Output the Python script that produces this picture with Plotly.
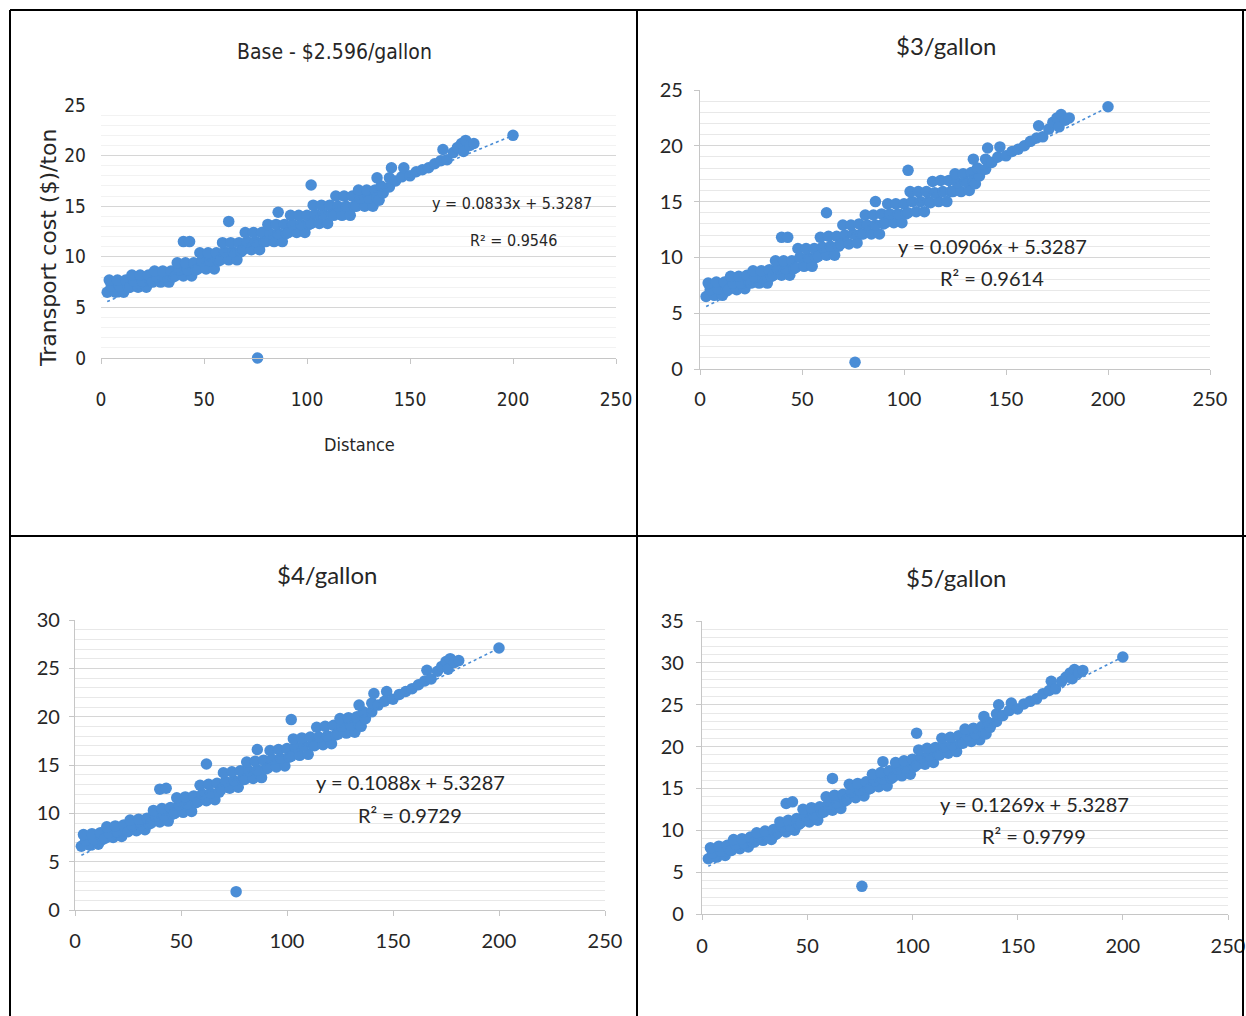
import plotly.graph_objects as go

W, H = 1246, 1016

# ---------------- data ----------------
distance = [
    3, 7, 11, 5, 9, 13, 4, 8, 12,
    14, 18, 22, 16, 20, 24, 15, 19, 23,
    25, 29, 33, 27, 31, 35, 26, 30, 34,
    36, 40, 44, 38, 42, 46, 37, 41, 45,
    47, 51, 55, 49, 53, 57, 48, 52, 56,
    58, 62, 66, 60, 64, 68, 59, 63, 67,
    69, 73, 77, 71, 75, 79, 70, 74, 78,
    80, 84, 88, 82, 86, 90, 81, 85, 89,
    91, 95, 99, 93, 97, 101, 92, 96, 100,
    102, 106, 110, 104, 108, 112, 103, 107, 111,
    113, 117, 121, 115, 119, 123, 114, 118, 122,
    124, 128, 132, 126, 130, 134, 125, 129, 133,
    135, 137, 136,
    134, 140, 140, 141, 143, 146, 147, 150, 153, 156, 159, 162, 165, 166, 168,
    171, 173, 175, 176, 177, 179, 181, 200,
    40, 43, 62, 86, 102, 76,
]

cost_base = [
    6.5, 6.5, 6.5, 7.1, 7.1, 7.1, 7.7, 7.7, 7.7,
    7.0, 7.0, 7.0, 7.6, 7.6, 7.6, 8.2, 8.2, 8.2,
    7.5, 7.5, 7.5, 8.0, 8.0, 8.0, 8.6, 8.6, 8.6,
    8.1, 8.1, 8.1, 8.7, 8.7, 8.7, 9.4, 9.4, 9.4,
    8.8, 8.8, 8.8, 9.6, 9.6, 9.6, 10.4, 10.4, 10.4,
    9.7, 9.7, 9.7, 10.5, 10.5, 10.5, 11.4, 11.4, 11.4,
    10.7, 10.7, 10.7, 11.5, 11.5, 11.5, 12.4, 12.4, 12.4,
    11.5, 11.5, 11.5, 12.3, 12.3, 12.3, 13.2, 13.2, 13.2,
    12.4, 12.4, 12.4, 13.2, 13.2, 13.2, 14.1, 14.1, 14.1,
    13.3, 13.3, 13.3, 14.2, 14.2, 14.2, 15.1, 15.1, 15.1,
    14.1, 14.1, 14.1, 15.0, 15.0, 15.0, 16.0, 16.0, 16.0,
    15.0, 15.0, 15.0, 15.8, 15.8, 15.8, 16.6, 16.6, 16.6,
    15.6, 16.3, 17.0,
    17.8, 16.9, 17.8, 18.8, 17.5, 17.9, 18.8, 18.0, 18.4, 18.6, 18.8, 19.2, 19.5, 20.6, 19.6,
    20.3, 20.8, 21.2, 20.4, 21.5, 21.0, 21.2, 22.0,
    11.5, 11.5, 13.5, 14.4, 17.1, 0.0,
]

cost_3 = [
    6.5, 6.6, 6.6, 7.1, 7.2, 7.2, 7.7, 7.8, 7.8,
    7.1, 7.1, 7.2, 7.7, 7.7, 7.8, 8.3, 8.3, 8.4,
    7.7, 7.7, 7.7, 8.2, 8.2, 8.3, 8.8, 8.8, 8.9,
    8.4, 8.4, 8.4, 9.0, 9.0, 9.0, 9.7, 9.7, 9.7,
    9.1, 9.2, 9.2, 10.0, 10.0, 10.0, 10.8, 10.8, 10.8,
    10.1, 10.2, 10.2, 10.9, 11.0, 11.0, 11.8, 11.9, 11.9,
    11.2, 11.2, 11.3, 12.0, 12.1, 12.1, 12.9, 12.9, 13.0,
    12.1, 12.1, 12.1, 12.9, 12.9, 13.0, 13.8, 13.8, 13.9,
    13.1, 13.1, 13.1, 13.9, 13.9, 13.9, 14.8, 14.8, 14.8,
    14.0, 14.1, 14.1, 15.0, 15.0, 15.0, 15.9, 15.9, 15.9,
    14.9, 15.0, 15.0, 15.8, 15.9, 15.9, 16.8, 16.9, 16.9,
    15.9, 15.9, 16.0, 16.7, 16.8, 16.8, 17.5, 17.5, 17.6,
    16.6, 17.3, 18.0,
    18.8, 17.9, 18.8, 19.8, 18.5, 19.0, 19.9, 19.1, 19.5, 19.7, 20.0, 20.4, 20.7, 21.8, 20.8,
    21.5, 22.1, 22.5, 21.7, 22.8, 22.3, 22.5, 23.5,
    11.8, 11.8, 14.0, 15.0, 17.8, 0.6,
]

cost_4 = [
    6.6, 6.7, 6.8, 7.2, 7.3, 7.4, 7.8, 7.9, 8.0,
    7.4, 7.5, 7.6, 8.0, 8.1, 8.2, 8.6, 8.7, 8.8,
    8.1, 8.2, 8.3, 8.7, 8.8, 8.9, 9.3, 9.4, 9.5,
    9.0, 9.1, 9.2, 9.7, 9.8, 9.9, 10.3, 10.5, 10.6,
    10.0, 10.1, 10.2, 10.9, 11.0, 11.1, 11.6, 11.7, 11.8,
    11.2, 11.3, 11.4, 12.0, 12.1, 12.2, 12.9, 13.0, 13.1,
    12.5, 12.6, 12.7, 13.3, 13.4, 13.5, 14.2, 14.3, 14.4,
    13.5, 13.6, 13.7, 14.4, 14.5, 14.6, 15.3, 15.4, 15.5,
    14.7, 14.8, 14.9, 15.6, 15.7, 15.8, 16.5, 16.6, 16.7,
    15.9, 16.0, 16.1, 16.9, 17.0, 17.1, 17.7, 17.8, 17.9,
    17.0, 17.1, 17.2, 17.9, 18.0, 18.1, 18.9, 19.0, 19.1,
    18.2, 18.3, 18.4, 19.0, 19.1, 19.2, 19.8, 19.9, 20.0,
    19.0, 19.8, 20.5,
    21.2, 20.5, 21.4, 22.4, 21.2, 21.6, 22.6, 21.8, 22.3, 22.6, 22.9, 23.3, 23.7, 24.8, 23.9,
    24.7, 25.2, 25.7, 24.9, 26.0, 25.6, 25.8, 27.1,
    12.5, 12.6, 15.1, 16.6, 19.7, 1.9,
]

cost_5 = [
    6.6, 6.8, 7.0, 7.3, 7.5, 7.7, 7.9, 8.1, 8.2,
    7.6, 7.8, 8.0, 8.3, 8.5, 8.6, 8.9, 9.0, 9.2,
    8.6, 8.8, 8.9, 9.2, 9.4, 9.5, 9.7, 9.9, 10.1,
    9.7, 9.8, 10.0, 10.4, 10.5, 10.7, 11.0, 11.2, 11.4,
    10.9, 11.0, 11.2, 11.7, 11.9, 12.1, 12.5, 12.7, 12.8,
    12.2, 12.4, 12.6, 13.1, 13.3, 13.5, 14.0, 14.2, 14.3,
    13.7, 13.9, 14.1, 14.6, 14.8, 14.9, 15.5, 15.6, 15.8,
    15.0, 15.2, 15.3, 15.9, 16.1, 16.2, 16.7, 16.9, 17.1,
    16.4, 16.5, 16.7, 17.3, 17.4, 17.6, 18.1, 18.3, 18.5,
    17.8, 17.9, 18.1, 18.7, 18.9, 19.1, 19.6, 19.8, 19.9,
    19.0, 19.2, 19.4, 20.0, 20.2, 20.4, 21.0, 21.1, 21.3,
    20.4, 20.6, 20.8, 21.3, 21.5, 21.6, 22.1, 22.2, 22.4,
    21.5, 22.3, 22.9,
    23.6, 23.0, 23.9, 25.0, 23.7, 24.3, 25.2, 24.5, 25.1, 25.4, 25.7, 26.3, 26.7, 27.8, 26.9,
    27.8, 28.3, 28.8, 28.1, 29.2, 28.8, 29.1, 30.7,
    13.2, 13.4, 16.2, 18.2, 21.6, 3.3,
]

titles = ["Base - $2.596/gallon", "$3/gallon", "$4/gallon", "$5/gallon"]
slopes = [0.0833, 0.0906, 0.1088, 0.1269]
intercepts = [5.3287, 5.3287, 5.3287, 5.3287]
r_squared = ["0.9546", "0.9614", "0.9729", "0.9799"]
y_max = [25, 25, 30, 35]
x_ticks = [0, 50, 100, 150, 200, 250]
trend_x = [3, 200]
x_title = "Distance"
y_title = "Transport cost ($)/ton"

series = [cost_base, cost_3, cost_4, cost_5]
for s in series:
    assert len(s) == len(distance)

# ---------------- layout geometry (pixels) ----------------
# (left x, right x, top y, bottom y) of each plot area
boxes = [
    (101, 616, 105, 358),
    (700, 1210, 90, 369),
    (75, 605, 620, 910),
    (702, 1228, 621, 914),
]

NARROW = "DejaVu Sans Condensed, Liberation Sans Narrow, Arial Narrow, sans-serif"
CAL = "Lato, Carlito, Calibri, Noto Sans, sans-serif"
TXT = "#262626"
BLUE = "#4a8dd6"
AXC = "#c6c6c6"


def px(x):
    return x / W


def py(y):
    return 1 - y / H


fig = go.Figure()
layout = dict(
    template="none",
    width=W, height=H, margin=dict(l=0, r=0, t=0, b=0, pad=0, autoexpand=False),
    paper_bgcolor="white", plot_bgcolor="white", showlegend=False,
    font=dict(family=CAL, color=TXT),
)

x_standoff = [19, 7, 8, 9]
y_standoff = [14, 7, 5, 8]

for i in range(4):
    n = "" if i == 0 else str(i + 1)
    xa, ya = "x" + n, "y" + n
    x0, x1, yt, yb = boxes[i]
    narrow = i == 0
    tfont = dict(family=NARROW if narrow else CAL, size=19 if narrow else 20, color=TXT)

    fig.add_trace(go.Scatter(
        x=distance, y=series[i], mode="markers", xaxis=xa, yaxis=ya,
        marker=dict(size=11.5, color=BLUE, line=dict(width=0)), cliponaxis=False,
        hoverinfo="x+y",
    ))
    fig.add_trace(go.Scatter(
        x=trend_x, y=[slopes[i] * v + intercepts[i] for v in trend_x],
        mode="lines", xaxis=xa, yaxis=ya,
        line=dict(color=BLUE, width=1.6, dash="dot"), hoverinfo="skip",
    ))

    layout["xaxis" + n] = dict(
        domain=[px(x0), px(x1)], range=[0, 250], tickvals=x_ticks,
        anchor=ya, automargin=False, showgrid=False, zeroline=False,
        showline=True, linecolor=AXC, linewidth=1.2,
        ticks="outside", ticklen=5, tickcolor=AXC, tickwidth=1,
        tickfont=tfont, ticklabelstandoff=x_standoff[i],
    )
    layout["yaxis" + n] = dict(
        domain=[py(yb), py(yt)], range=[0, y_max[i]], dtick=5, tick0=0,
        anchor=xa, automargin=False, showgrid=True, gridcolor="#d6d6d6", gridwidth=1.2,
        zeroline=False, showline=not narrow, linecolor=AXC, linewidth=1.2,
        ticks="" if narrow else "outside", ticklen=5, tickcolor=AXC, tickwidth=1,
        tickfont=tfont, ticklabelstandoff=y_standoff[i],
        minor=dict(dtick=1, showgrid=True,
                   gridcolor="#f2f2f2" if narrow else "#e8e8e8", gridwidth=1),
    )

fig.update_layout(**layout)

# ---------------- text ----------------
ann = []
title_pos = [(334, 52), (946, 45), (327, 574), (956, 577)]
eq_pos = [(512, 204), (992, 246), (410, 782), (1034, 804)]
r2_pos = [(513, 240), (992, 278), (410, 815), (1034, 836)]
for i in range(4):
    narrow = i == 0
    fam = NARROW if narrow else CAL
    ann.append(dict(x=px(title_pos[i][0]), y=py(title_pos[i][1]), text=titles[i],
                    font=dict(family=fam, size=21 if narrow else 24, color=TXT)))
    ann.append(dict(x=px(eq_pos[i][0]), y=py(eq_pos[i][1]),
                    text=f"y = {slopes[i]:.4f}x + {intercepts[i]:.4f}",
                    font=dict(family=fam, size=16 if narrow else 20, color=TXT)))
    ann.append(dict(x=px(r2_pos[i][0]), y=py(r2_pos[i][1]),
                    text=f"R² = {r_squared[i]}",
                    font=dict(family=fam, size=16 if narrow else 20, color=TXT)))

ann.append(dict(x=px(359), y=py(444), text=x_title,
                font=dict(family=NARROW, size=18, color=TXT)))
ann.append(dict(x=px(48), y=py(248), text=y_title, textangle=-90,
                font=dict(family="DejaVu Sans, Verdana, sans-serif", size=22, color=TXT)))
for a in ann:
    a.update(xref="paper", yref="paper", showarrow=False, xanchor="center", yanchor="middle")
fig.update_layout(annotations=ann)

# ---------------- cell borders of the scanned table ----------------
borders = [
    (10, 10, 1246, 10),
    (10, 10, 10, 1016),
    (637, 10, 637, 1016),
    (10, 536, 1246, 536),
    (1243, 10, 1243, 1016),
]
fig.update_layout(shapes=[
    dict(type="line", xref="paper", yref="paper", x0=px(a), y0=py(b), x1=px(c), y1=py(d),
         line=dict(color="black", width=2))
    for a, b, c, d in borders
])

fig.write_html(
    "out.html",
    config={"displayModeBar": False},
    post_script="document.body.style.margin='0';document.documentElement.style.overflow='hidden';",
)
